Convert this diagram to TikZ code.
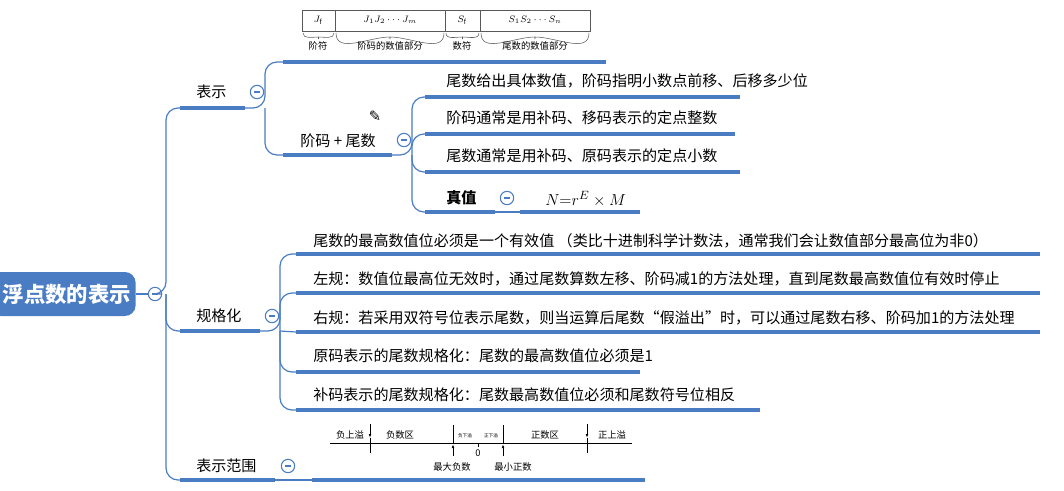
\documentclass[tikz,border=0pt]{standalone}
\usepackage{fontspec}
\setmainfont{Noto Sans CJK SC}
\newfontfamily\cjk{Noto Sans CJK SC}
\usetikzlibrary{arrows.meta}
\definecolor{mb}{HTML}{4A7CC4}
\begin{document}
\begin{tikzpicture}[x=0.75pt,y=-0.75pt,
  thick line/.style={mb,line width=3pt},
  conn/.style={mb,line width=0.9pt,rounded corners=9},
  txt/.style={anchor=west,inner sep=0pt,font=\fontsize{11.3}{13}\selectfont},
  small/.style={inner sep=0pt,font=\fontsize{7}{8}\selectfont},
  tiny/.style={inner sep=0pt,font=\fontsize{3.5}{4}\selectfont},
  minus/.style={circle,draw=mb,line width=0.8pt,minimum size=10pt,inner sep=0pt,
    path picture={\draw[mb,line width=0.8pt] ([xshift=-2.2pt]path picture bounding box.center)--([xshift=2.2pt]path picture bounding box.center);}}]
\useasboundingbox (0,0) rectangle (1064,490);
% root
\node[fill=mb,rounded corners=8,minimum width=109pt,minimum height=33pt,text=white,font=\fontsize{16}{18}\selectfont\bfseries,anchor=west] (root) at (-10,294) {\hspace{6pt}浮点数的表示};
\node[minus] (m0) at (155,294) {};
\draw[conn] (root.east) -- (m0);
\draw[conn] (m0.east) -- (166,294) |- (180,108);
\draw[conn] (166,294) |- (180,331);
\draw[conn] (166,294) |- (180,480);
% level 1
\node[txt] (t1) at (196,92) {表示};
\draw[thick line] (180,108) -- (245,108);
\node[minus] (m1) at (257,92) {};
\node[txt] (t2) at (196,316) {规格化};
\draw[thick line] (180,331) -- (260,331);
\node[minus] (m2) at (272,316) {};
\node[txt] (t3) at (196,466) {表示范围};
\draw[thick line] (180,480) -- (275,480);
\node[minus] (m3) at (288,466) {};
% 表示 children
\draw[conn] (245,108) -- (265,108) |- (283,62);
\draw[conn] (265,108) |- (283,155);
\draw[thick line] (283,62) -- (606,62);
% format diagram
\draw[line width=0.6pt,gray!70!black] (302,10) rectangle (590,31);
\foreach \x in {335,445,480} \draw[line width=0.6pt,gray!70!black] (\x,10) -- (\x,31);
\node[small] at (318,20) {$J_{\mathrm f}$};
\node[small] at (390,20) {$J_1J_2\cdots J_m$};
\node[small] at (462,20) {$S_{\mathrm f}$};
\node[small] at (535,20) {$S_1S_2\cdots S_n$};
\foreach \a/\b in {303/334,336/444,446/479,481/589}{
  \pgfmathsetmacro\mm{(\a+\b)/2}
  \draw[line width=0.4pt,gray!70!black] (\a,33) to[out=-90,in=180] (\mm,37) -- (\mm,39);
  \draw[line width=0.4pt,gray!70!black] (\mm,37) to[out=0,in=-90] (\b,33);}
\node[small] at (318,46) {阶符};
\node[small] at (390,46) {阶码的数值部分};
\node[small] at (462,46) {数符};
\node[small] at (535,46) {尾数的数值部分};
% 阶码+尾数
\node[txt] (t11) at (300,141) {阶码 + 尾数};
\draw[thick line] (283,155) -- (392,155);
\node[font=\fontsize{11}{11}\selectfont] at (375,116) {\fontspec{DejaVu Sans}✎};
\node[minus] (m11) at (404,140) {};
\draw[conn] (392,155) -- (412,155) |- (425,97);
\draw[conn] (412,155) |- (425,134);
\draw[conn] (412,155) |- (425,172);
\draw[conn] (412,155) |- (425,212);
\node[txt] at (446,81) {尾数给出具体数值，阶码指明小数点前移、后移多少位};
\draw[thick line] (425,97) -- (740,97);
\node[txt] at (446,118) {阶码通常是用补码、移码表示的定点整数};
\draw[thick line] (425,134) -- (735,134);
\node[txt] at (446,156) {尾数通常是用补码、原码表示的定点小数};
\draw[thick line] (425,172) -- (740,172);
\node[txt,font=\fontsize{11.3}{13}\selectfont\bfseries] at (446,198) {真值};
\draw[thick line] (425,212) -- (495,212);
\node[minus] at (507,198) {};
\draw[conn] (495,212) -- (520,212);
\node[txt,font=\fontsize{13}{15}\selectfont] at (545,199) {$N{=}r^{E}\times M$};
\draw[thick line] (520,212) -- (640,212);
% 规格化 children
\draw[conn] (260,331) -- (280,331) |- (296,254);
\draw[conn] (280,331) |- (296,293);
\draw[conn] (280,331) -- (296,332);
\draw[conn] (280,331) |- (296,372);
\draw[conn] (280,331) |- (296,410);
\node[txt] at (313,241) {尾数的最高数值位必须是一个有效值 （类比十进制科学计数法，通常我们会让数值部分最高位为非0）};
\draw[thick line] (296,254) -- (1040,254);
\node[txt] at (313,279) {左规：数值位最高位无效时，通过尾数算数左移、阶码减1的方法处理，直到尾数最高数值位有效时停止};
\draw[thick line] (296,293) -- (1040,293);
\node[txt] at (313,318) {右规：若采用双符号位表示尾数，则当运算后尾数“假溢出”时，可以通过尾数右移、阶码加1的方法处理};
\draw[thick line] (296,332) -- (1040,332);
\node[txt] at (313,356) {原码表示的尾数规格化：尾数的最高数值位必须是1};
\draw[thick line] (296,372) -- (640,372);
\node[txt] at (313,395) {补码表示的尾数规格化：尾数最高数值位必须和尾数符号位相反};
\draw[thick line] (296,410) -- (760,410);
% 表示范围
\draw[conn] (275,480) -- (312,480);
\draw[thick line] (312,480) -- (645,480);
\draw[line width=0.5pt] (330,443) -- (632,443);
\draw[line width=0.6pt,-{Latex[length=3pt,width=2pt]}] (370,424) -- (370,438);
\draw[line width=0.6pt] (370,438) -- (370,453);
\draw[line width=0.6pt,-{Latex[length=3pt,width=2pt]}] (453,456) -- (453,444);
\draw[line width=0.6pt] (453,444) -- (453,425);
\draw[line width=0.6pt,-{Latex[length=3pt,width=2pt]}] (503,456) -- (503,444);
\draw[line width=0.6pt] (503,444) -- (503,425);
\draw[line width=0.6pt,-{Latex[length=3pt,width=2pt]}] (587,424) -- (587,438);
\draw[line width=0.6pt] (587,438) -- (587,453);
\draw[line width=0.5pt] (478,443) -- (478,447);
\node[small] at (350,435) {负上溢};
\node[small] at (400,435) {负数区};
\node[tiny] at (465,436) {负下溢};
\node[tiny] at (491,436) {正下溢};
\node[small] at (545,435) {正数区};
\node[small] at (612,435) {正上溢};
\node[small] at (478,453) {0};
\node[small] at (452,467) {最大负数};
\node[small] at (513,467) {最小正数};
\end{tikzpicture}
\end{document}
